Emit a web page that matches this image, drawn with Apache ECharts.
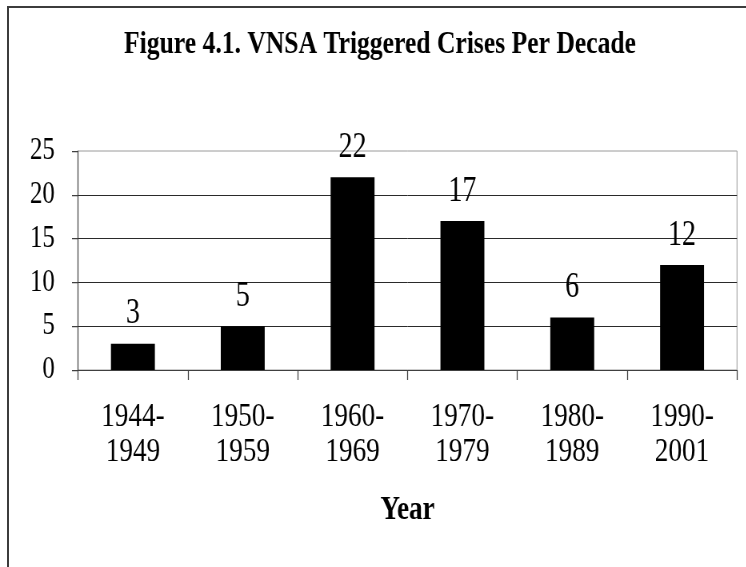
<!DOCTYPE html>
<html><head><meta charset="utf-8">
<script src="https://cdn.jsdelivr.net/npm/echarts@6/dist/echarts.min.js"></script>
<style>
html,body{margin:0;padding:0;width:746px;height:567px;overflow:hidden;background:#fff;}
#frame{position:absolute;left:7px;top:6px;width:1000px;height:1000px;border-left:2px solid #3c3c3c;border-top:2px solid #3c3c3c;}
#chart{position:absolute;left:0;top:0;width:932px;height:567px;transform:scaleX(0.8);transform-origin:0 0;}
</style></head><body>
<div id="frame"></div><div id="chart"></div>
<script>
const titleText = 'Figure 4.1. VNSA Triggered Crises Per Decade';
const categories = ['1944-\n1949', '1950-\n1959', '1960-\n1969', '1970-\n1979', '1980-\n1989', '1990-\n2001'];
const crises = [3, 5, 22, 17, 6, 12];
const yMin = 0, yMax = 25, yStep = 5;
const xAxisName = 'Year';

const chart = echarts.init(document.getElementById('chart'), null, {renderer: 'canvas'});
chart.setOption({
  animation: false,
  backgroundColor: 'transparent',
  textStyle: {fontFamily: 'Liberation Serif', color: '#000'},
  title: {
    text: titleText,
    left: 475, top: 29, padding: 0,
    textAlign: 'center',
    textStyle: {fontFamily: 'Liberation Serif', fontWeight: 'bold', fontSize: 32, color: '#000'}
  },
  grid: {
    left: 97.5, right: 10.75, top: 151, bottom: 197,
    show: true, borderColor: '#9a9a9a', borderWidth: 1, backgroundColor: 'transparent',
    containLabel: false
  },
  xAxis: {
    type: 'category',
    data: categories,
    boundaryGap: true,
    name: xAxisName,
    nameLocation: 'middle',
    nameGap: 123,
    nameTextStyle: {fontFamily: 'Liberation Serif', fontWeight: 'bold', fontSize: 34, color: '#000'},
    axisLine: {show: true, lineStyle: {color: '#404040', width: 1}},
    axisTick: {show: true, length: 10, alignWithLabel: false, lineStyle: {color: '#404040', width: 1.25}},
    axisLabel: {fontFamily: 'Liberation Serif', fontSize: 34, lineHeight: 35, color: '#000', margin: 30, interval: 0}
  },
  yAxis: {
    type: 'value',
    min: yMin, max: yMax, interval: yStep,
    axisLine: {show: true, lineStyle: {color: '#404040', width: 1.25}},
    axisTick: {show: true, length: 7.5, lineStyle: {color: '#404040', width: 1.25}},
    axisLabel: {fontFamily: 'Liberation Serif', fontSize: 31, color: '#000', margin: 29},
    splitLine: {show: true, showMaxLine: false, lineStyle: {color: '#2a2a2a', width: 1}}
  },
  series: [{
    type: 'bar',
    data: crises,
    barCategoryGap: '60%',
    itemStyle: {color: '#000'},
    label: {show: true, position: 'top', distance: 12, fontFamily: 'Liberation Serif', fontSize: 35, color: '#000'}
  }]
});
</script>
</body></html>
